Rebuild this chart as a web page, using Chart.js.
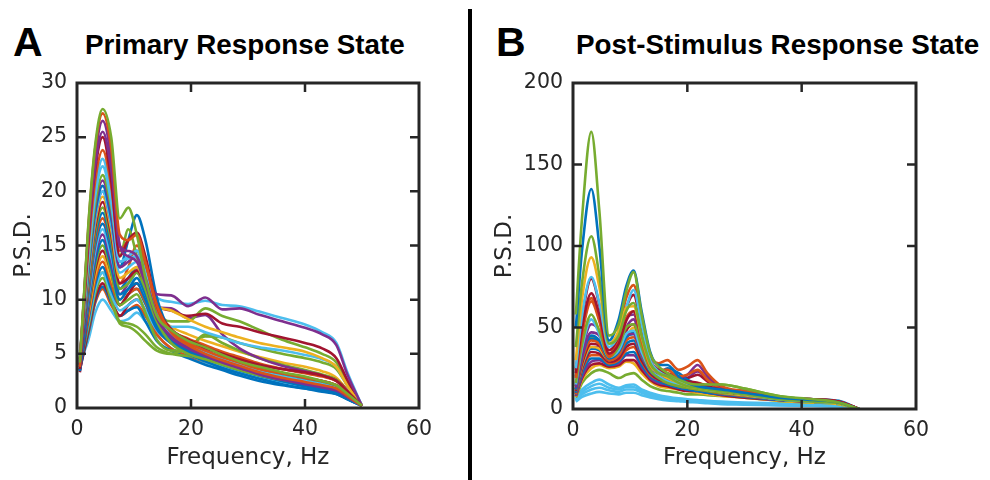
<!DOCTYPE html>
<html>
<head>
<meta charset="utf-8">
<script src="https://cdn.jsdelivr.net/npm/chart.js@4/dist/chart.umd.min.js"></script>
<style>
  html, body { margin: 0; padding: 0; background: #fff; }
  #wrap { position: relative; width: 990px; height: 480px; overflow: hidden; background: #fff; }
  .panel-letter { position: absolute; font-family: 'Liberation Sans', Arial, sans-serif; font-weight: bold;
                  font-size: 41px; line-height: 41px; color: #000; }
  .panel-title { position: absolute; font-family: 'Liberation Sans', Arial, sans-serif; font-weight: bold;
                 font-size: 27.8px; line-height: 27.8px; color: #000; white-space: nowrap; }
  #divider { position: absolute; left: 468px; top: 9px; width: 4px; height: 471px; background: #000; }
  canvas { position: absolute; top: 0; }
</style>
</head>
<body>
<div id="wrap">
  <div class="panel-letter" style="left:13px;top:22px">A</div>
  <div class="panel-title" style="left:85px;top:30.5px">Primary Response State</div>
  <div class="panel-letter" style="left:496px;top:22px">B</div>
  <div class="panel-title" style="left:576px;top:30.5px">Post-Stimulus Response State</div>
  <div id="divider"></div>
  <canvas id="chartA" width="470" height="480" style="left:0;width:470px;height:480px"></canvas>
  <canvas id="chartB" width="520" height="480" style="left:470px;width:520px;height:480px"></canvas>
</div>
<script>
// ---- axis ticks ----
const xTicks = [0, 20, 40, 60];
const yTicksA = [0, 5, 10, 15, 20, 25, 30];
const yTicksB = [0, 50, 100, 150, 200];

// ---- line colours (default colour order) ----
const palette = {
  blue: '#0072BD', orange: '#D95319', yellow: '#EDB120', purple: '#7E2F8E',
  green: '#77AC30', cyan: '#4DBEEE', red: '#A2142F'
};

// ---- Panel A: primary response state, PSD per recording ----
const freqA = [0.5, 2, 3.2, 4.5, 6, 7.5, 9, 10.5, 12, 14, 16.5, 19.5, 22.5, 25.5, 28.5, 32, 36, 40, 43, 45.5, 47.5, 50];
const colorsA = ['green','orange','purple','purple','red','orange','cyan','cyan','green','purple','blue','cyan',
                 'purple','yellow','red','green','blue','orange','blue','cyan','purple','blue','green','red',
                 'yellow','orange','blue','cyan','green','green','red','blue','orange','cyan'];
const psdA = [
  [4.2, 17.0, 24.3, 27.6, 25.0, 17.5, 18.5, 16.0, 12.0, 8.5, 7.2, 6.2, 5.6, 4.9, 4.3, 3.8, 3.3, 2.9, 2.5, 2.1, 1.3, 0.2],
  [3.8, 16.8, 24.0, 27.2, 24.0, 16.0, 15.5, 16.0, 13.5, 9.5, 7.0, 5.8, 5.0, 4.4, 3.9, 3.3, 2.8, 2.4, 2.1, 1.8, 1.1, 0.2],
  [4.0, 16.4, 23.3, 26.5, 23.0, 15.0, 14.5, 14.0, 12.0, 8.5, 6.5, 5.5, 4.8, 4.2, 3.7, 3.1, 2.6, 2.2, 1.9, 1.6, 1.0, 0.2],
  [4.3, 15.8, 22.4, 25.5, 22.0, 15.0, 14.0, 13.5, 11.5, 8.3, 6.6, 5.6, 4.9, 4.3, 3.7, 3.2, 2.7, 2.3, 2.0, 1.7, 1.0, 0.2],
  [3.6, 15.5, 22.0, 25.0, 21.0, 14.0, 15.5, 16.2, 14.0, 9.5, 7.3, 6.3, 5.6, 5.0, 4.5, 4.0, 3.6, 3.3, 3.0, 2.5, 1.5, 0.2],
  [4.5, 14.8, 21.0, 23.8, 20.5, 14.5, 15.5, 16.0, 13.5, 9.2, 7.0, 6.0, 5.3, 4.7, 4.2, 3.6, 3.2, 2.8, 2.5, 2.1, 1.3, 0.2],
  [4.8, 14.3, 20.2, 23.0, 19.5, 13.5, 14.0, 14.5, 12.5, 8.8, 6.8, 5.7, 5.0, 4.4, 3.9, 3.3, 2.8, 2.4, 2.1, 1.8, 1.1, 0.2],
  [4.4, 13.8, 19.6, 22.3, 19.0, 13.5, 13.8, 14.0, 12.0, 8.6, 6.8, 5.8, 5.1, 4.5, 4.0, 3.4, 2.9, 2.5, 2.2, 1.8, 1.1, 0.2],
  [4.5, 13.3, 18.9, 21.5, 18.5, 14.0, 16.5, 14.0, 11.0, 8.0, 6.0, 5.0, 4.5, 4.0, 3.5, 3.0, 2.6, 2.3, 2.0, 1.7, 1.0, 0.2],
  [4.3, 13.0, 18.5, 21.0, 18.0, 13.0, 13.5, 14.0, 12.5, 10.5, 10.4, 9.4, 10.2, 9.1, 9.2, 8.6, 8.0, 7.4, 6.8, 5.8, 3.0, 0.2],
  [4.0, 12.7, 18.0, 20.5, 17.5, 13.0, 15.5, 17.8, 15.5, 10.2, 7.0, 5.8, 5.0, 4.3, 3.7, 3.1, 2.6, 2.2, 1.9, 1.6, 1.0, 0.2],
  [4.6, 12.4, 17.6, 20.0, 17.0, 12.5, 13.0, 13.5, 12.0, 10.2, 9.8, 9.6, 9.9, 9.5, 9.4, 8.9, 8.3, 7.7, 7.0, 6.0, 3.2, 0.2],
  [4.1, 12.4, 17.6, 20.0, 17.0, 13.0, 14.0, 14.5, 12.5, 8.8, 7.0, 6.0, 5.3, 4.7, 4.2, 3.7, 3.2, 2.8, 2.5, 2.1, 1.3, 0.2],
  [5.0, 12.1, 17.2, 19.5, 16.5, 12.0, 12.5, 13.0, 11.5, 9.5, 9.0, 8.2, 7.5, 7.0, 6.5, 6.0, 5.6, 5.2, 4.6, 3.8, 2.0, 0.2],
  [3.8, 11.8, 16.7, 19.0, 16.0, 11.5, 12.0, 12.7, 11.5, 9.5, 9.0, 8.5, 8.7, 7.8, 7.5, 7.0, 6.5, 6.0, 5.5, 4.6, 2.5, 0.2],
  [4.2, 11.5, 16.3, 18.5, 15.5, 11.0, 11.5, 12.5, 11.0, 8.8, 8.0, 8.0, 9.2, 8.5, 8.0, 7.2, 6.3, 5.6, 5.0, 4.2, 2.2, 0.2],
  [3.5, 11.2, 15.8, 18.0, 15.0, 11.0, 12.0, 13.0, 11.0, 8.2, 6.2, 5.2, 4.6, 4.0, 3.5, 3.0, 2.5, 2.1, 1.8, 1.5, 0.9, 0.2],
  [4.5, 10.9, 15.4, 17.5, 15.0, 11.5, 13.0, 15.0, 13.0, 9.2, 7.2, 6.4, 5.8, 5.2, 4.7, 4.1, 3.6, 3.2, 2.9, 2.5, 1.5, 0.2],
  [4.0, 10.5, 15.0, 17.0, 14.5, 10.5, 11.0, 12.0, 10.5, 8.0, 6.5, 5.6, 5.0, 4.4, 3.9, 3.4, 2.9, 2.5, 2.2, 1.8, 1.1, 0.2],
  [5.2, 10.2, 14.5, 16.5, 14.0, 11.0, 11.5, 12.0, 10.5, 8.5, 7.5, 7.5, 7.0, 6.5, 6.0, 5.6, 5.3, 4.9, 4.5, 3.8, 2.0, 0.2],
  [4.0, 9.9, 14.1, 16.0, 13.5, 10.5, 11.5, 12.5, 11.0, 9.3, 9.2, 8.3, 8.6, 6.8, 5.5, 4.6, 3.9, 3.4, 3.0, 2.5, 1.5, 0.2],
  [3.4, 9.6, 13.6, 15.5, 13.0, 10.0, 11.0, 11.5, 10.0, 7.6, 6.3, 5.3, 4.7, 4.1, 3.5, 3.0, 2.5, 2.0, 1.7, 1.4, 0.8, 0.2],
  [4.0, 9.3, 13.2, 15.0, 12.5, 9.5, 10.0, 10.5, 8.8, 6.3, 5.3, 5.5, 6.8, 6.0, 5.3, 4.6, 4.0, 3.5, 3.1, 2.6, 1.5, 0.2],
  [3.3, 9.0, 12.8, 14.5, 12.5, 9.5, 10.5, 11.5, 10.2, 8.2, 6.8, 6.0, 5.5, 5.0, 4.5, 4.0, 3.6, 3.3, 3.0, 2.6, 1.6, 0.2],
  [4.8, 8.7, 12.3, 14.0, 12.0, 10.0, 11.0, 11.5, 10.2, 8.6, 7.5, 6.8, 6.2, 5.7, 5.2, 4.7, 4.2, 3.8, 3.4, 2.8, 1.6, 0.2],
  [4.2, 8.4, 11.9, 13.5, 11.5, 9.5, 10.5, 11.0, 9.8, 7.8, 6.5, 5.7, 5.1, 4.6, 4.1, 3.6, 3.2, 2.8, 2.5, 2.1, 1.3, 0.2],
  [3.6, 8.1, 11.4, 13.0, 11.0, 9.5, 10.5, 11.0, 9.6, 7.3, 6.0, 5.0, 4.3, 3.7, 3.2, 2.7, 2.2, 1.8, 1.6, 1.3, 0.8, 0.2],
  [4.5, 7.8, 11.0, 12.5, 10.5, 9.0, 9.5, 10.0, 9.0, 7.2, 6.0, 5.0, 4.3, 3.8, 3.3, 2.8, 2.4, 2.0, 1.7, 1.4, 0.9, 0.2],
  [4.0, 7.8, 11.0, 12.5, 10.0, 7.8, 7.5, 7.0, 6.2, 5.3, 5.0, 5.6, 6.6, 6.5, 6.0, 5.5, 5.0, 4.6, 4.2, 3.6, 2.0, 0.2],
  [4.0, 7.5, 10.6, 12.0, 10.0, 8.0, 7.8, 7.5, 6.8, 5.6, 5.0, 4.8, 4.6, 4.2, 3.8, 3.4, 3.0, 2.6, 2.3, 1.9, 1.1, 0.2],
  [3.5, 7.2, 10.1, 11.5, 10.0, 8.5, 9.5, 10.0, 9.0, 7.2, 6.0, 5.2, 4.6, 4.1, 3.6, 3.2, 2.9, 2.6, 2.3, 1.9, 1.2, 0.2],
  [3.5, 7.0, 9.9, 11.2, 9.8, 8.5, 9.0, 9.3, 8.0, 6.2, 5.3, 4.6, 4.0, 3.5, 3.0, 2.5, 2.1, 1.8, 1.5, 1.3, 0.8, 0.2],
  [3.8, 6.9, 9.7, 11.0, 9.5, 8.5, 9.0, 9.5, 8.5, 6.8, 5.5, 4.8, 4.3, 3.8, 3.4, 2.9, 2.5, 2.2, 1.9, 1.6, 1.0, 0.2],
  [4.2, 6.3, 8.8, 10.0, 9.0, 8.0, 8.2, 8.8, 8.0, 6.7, 5.5, 4.8, 4.2, 3.7, 3.3, 2.9, 2.5, 2.2, 1.9, 1.6, 1.0, 0.2]
];

// ---- Panel B: post-stimulus response state, PSD per recording ----
const freqB = [0.5, 1.6, 3.2, 4.6, 6.3, 8, 9.3, 10.6, 12, 13.5, 15, 16.5, 18.5, 20, 21.8, 23.5, 26, 30, 36, 42, 46.5, 50];
const colorsB = ['green','blue','green','yellow','cyan','red','red','orange','orange','green','cyan','purple',
                 'purple','blue','orange','red','yellow','blue','red','orange','blue','purple','red','yellow',
                 'green','cyan','cyan','cyan','cyan','blue','green','purple'];
const psdB = [
  [58, 118, 170, 122, 45, 52, 72, 84, 58, 34, 26, 22, 18, 16, 15, 15, 15, 12.5, 8, 6, 4, 0],
  [50, 98, 135, 100, 42, 55, 75, 85, 60, 35, 27, 27, 20, 16, 14, 13, 12, 10, 7, 5.5, 4, 0],
  [38, 78, 106, 82, 40, 45, 60, 65, 45, 28, 22, 20, 16, 14, 13, 12, 11, 9, 6, 4.5, 3.5, 0],
  [30, 68, 93, 75, 40, 48, 62, 63, 44, 27, 22, 19, 16, 14, 13, 12, 11, 9, 6.5, 5, 3.5, 0],
  [25, 58, 81, 65, 38, 46, 62, 73, 52, 30, 23, 20, 17, 15, 14, 12, 11, 9, 6, 4.5, 3.5, 0],
  [24, 56, 80, 64, 36, 45, 62, 70, 50, 30, 24, 21, 18, 16, 15, 13, 11, 9, 6.5, 5.5, 4.5, 0],
  [22, 50, 71, 58, 34, 40, 54, 60, 44, 28, 23, 21, 18, 17, 16, 14, 12, 9.5, 7, 6, 4.5, 0],
  [20, 48, 68, 55, 33, 48, 68, 76, 55, 33, 28, 30, 24, 26, 30, 22, 14, 11, 7, 5.5, 4.5, 0],
  [19, 46, 66, 54, 32, 42, 56, 60, 42, 26, 24, 24, 20, 21, 24, 18, 12, 9.5, 6.5, 5, 4, 0],
  [16, 40, 58, 48, 32, 38, 50, 52, 38, 24, 19, 16, 14, 13, 12, 11, 10, 9, 6, 4.5, 3.5, 0],
  [15, 38, 55, 46, 32, 36, 46, 48, 35, 24, 20, 17, 15, 14, 13, 12, 11, 9, 6, 4.5, 3.5, 0],
  [14, 36, 52, 48, 33, 40, 55, 58, 40, 26, 22, 20, 19, 21, 27, 20, 13, 10, 7, 5.5, 4.5, 0],
  [13, 33, 47, 45, 32, 36, 46, 46, 34, 24, 20, 18, 16, 15, 15, 13, 11, 9, 6.5, 5, 4, 0],
  [12, 32, 45, 42, 31, 35, 44, 46, 34, 26, 22, 25, 22, 18, 15, 13, 11, 9, 6.5, 5, 4, 0],
  [12, 30, 42, 40, 30, 33, 42, 44, 33, 24, 20, 19, 17, 16, 16, 14, 12, 9.5, 7, 5.5, 4.5, 0],
  [11, 28, 40, 39, 30, 36, 48, 52, 38, 27, 23, 22, 20, 19, 21, 17, 12, 9.5, 7, 6, 4.5, 0],
  [11, 27, 38, 37, 30, 34, 44, 50, 36, 25, 20, 17, 15, 14, 13, 12, 10, 8.5, 6, 4.5, 3.5, 0],
  [10, 26, 37, 36, 30, 33, 40, 42, 32, 23, 19, 17, 15, 14, 13, 12, 10, 8.5, 6, 4.5, 3.5, 0],
  [10, 25, 35, 34, 29, 31, 38, 40, 30, 22, 18, 17, 15, 14, 14, 12, 10, 8.5, 6.5, 5.5, 4.5, 0],
  [9, 24, 33, 33, 28, 30, 36, 38, 29, 21, 18, 16, 14, 13, 12, 11, 9.5, 8, 6, 4.5, 3.5, 0],
  [9, 22, 31, 31, 27, 29, 34, 35, 27, 20, 17, 15, 13, 12, 11, 10, 9, 7.5, 5.5, 4.5, 3.5, 0],
  [8, 20, 29, 30, 27, 28, 33, 33, 26, 19, 16, 15, 13, 12, 11, 10, 9, 7.5, 5.5, 4.5, 3.5, 0],
  [8, 19, 27, 28, 26, 27, 30, 30, 24, 18, 15, 14, 12, 11, 11, 10, 8.5, 7, 5.5, 4.5, 3.5, 0],
  [7.5, 18, 25, 27, 25, 26, 29, 28, 22, 17, 14, 13, 12, 11, 10, 9, 8, 7, 5, 4, 3, 0],
  [7, 16, 22, 24, 22, 19, 21, 22, 18, 14, 12, 11, 10, 9, 9, 8.5, 8, 7, 5, 4, 3, 0],
  [6, 12, 16, 18, 15, 13, 14.5, 15, 12, 10, 8.5, 7.5, 6.5, 6, 5.5, 5, 4.5, 4, 3.5, 3, 2.5, 0],
  [5.5, 10.5, 14, 15.5, 13, 12, 13.5, 13.5, 11, 9, 8, 7, 6, 5.5, 5, 4.5, 4, 3.5, 3, 2.5, 2, 0],
  [5, 9, 12, 13, 11.5, 10.5, 12, 12, 10, 8, 7, 6.2, 5.5, 5, 4.5, 4, 3.5, 3, 2.5, 2, 1.8, 0],
  [4.5, 7.5, 9.5, 10.5, 9.5, 9, 10, 10, 8.5, 7, 6, 5.3, 4.8, 4.3, 4, 3.5, 3, 2.7, 2.2, 1.8, 1.5, 0],
  [12, 30, 43, 41, 30, 34, 44, 47, 35, 24, 21, 20, 18, 16, 14, 13, 12, 11, 7.5, 6, 5, 0],
  [14, 32, 44, 40, 30, 35, 45, 48, 36, 25, 21, 19, 17, 16, 15, 15, 15, 12.5, 8, 5.5, 4, 0],
  [10, 26, 38, 38, 30, 38, 50, 55, 39, 26, 21, 19, 18, 19, 23, 18, 12, 9.5, 7, 5.5, 4.5, 0]
];

// ---- helpers ----
const AXIS_COLOR = '#262626';
const TICK_FONT = { family: 'DejaVu Sans', size: 20.5 };
const TITLE_FONT = { family: 'DejaVu Sans', size: 23, lineHeight: 1 };

function buildDatasets(freqs, rows, colorKeys) {
  return rows.map((vals, i) => ({
    data: vals.map((v, j) => ({ x: freqs[j], y: v })),
    borderColor: palette[colorKeys[i % colorKeys.length]],
    borderWidth: 2.6,
    pointRadius: 0,
    fill: false,
    cubicInterpolationMode: 'monotone'
  }));
}

// Boxed axes with inward tick marks on all four sides
const boxFrame = {
  id: 'boxFrame',
  afterDatasetsDraw(chart) {
    const { ctx, chartArea: a, scales: { x, y } } = chart;
    const len = 9;
    ctx.save();
    ctx.strokeStyle = AXIS_COLOR;
    ctx.lineWidth = 2.5;
    ctx.lineCap = 'butt';
    ctx.beginPath();
    x.ticks.forEach(t => {
      const px = x.getPixelForValue(t.value);
      if (px <= a.left + 1 || px >= a.right - 1) return;
      ctx.moveTo(px, a.bottom); ctx.lineTo(px, a.bottom - len);
      ctx.moveTo(px, a.top); ctx.lineTo(px, a.top + len);
    });
    y.ticks.forEach(t => {
      const py = y.getPixelForValue(t.value);
      if (py <= a.top + 1 || py >= a.bottom - 1) return;
      ctx.moveTo(a.left, py); ctx.lineTo(a.left + len, py);
      ctx.moveTo(a.right, py); ctx.lineTo(a.right - len, py);
    });
    ctx.stroke();
    ctx.lineWidth = 3;
    ctx.strokeRect(a.left, a.top, a.right - a.left, a.bottom - a.top);
    ctx.restore();
  }
};

function makeChart(canvasId, freqs, rows, colorKeys, yTicks, yMax, geo) {
  return new Chart(document.getElementById(canvasId), {
    type: 'line',
    data: { datasets: buildDatasets(freqs, rows, colorKeys) },
    plugins: [boxFrame],
    options: {
      responsive: false,
      animation: false,
      devicePixelRatio: 1,
      layout: { padding: { top: geo.top, right: geo.right, left: 0, bottom: 0 } },
      plugins: { legend: { display: false }, tooltip: { enabled: false } },
      scales: {
        x: {
          type: 'linear', min: 0, max: 60,
          afterBuildTicks: s => { s.ticks = xTicks.map(v => ({ value: v })); },
          afterFit: s => { s.height = geo.xHeight; },
          grid: { display: false, drawTicks: false },
          border: { display: false },
          ticks: { padding: 9, color: AXIS_COLOR, font: TICK_FONT, maxRotation: 0, autoSkip: false },
          title: { display: true, text: 'Frequency, Hz', color: AXIS_COLOR, font: TITLE_FONT,
                   padding: { top: 0, bottom: 10.5 } }
        },
        y: {
          type: 'linear', min: 0, max: yMax,
          afterBuildTicks: s => { s.ticks = yTicks.map(v => ({ value: v })); },
          afterFit: s => { s.width = geo.yWidth; },
          grid: { display: false, drawTicks: false },
          border: { display: false },
          ticks: { padding: 10, color: AXIS_COLOR, font: TICK_FONT, autoSkip: false },
          title: { display: true, text: 'P.S.D.', color: AXIS_COLOR, font: TITLE_FONT,
                   padding: { top: geo.yTitlePad, bottom: 0 } }
        }
      }
    }
  });
}

makeChart('chartA', freqA, psdA, colorsA, yTicksA, 30,
          { top: 83, right: 51, xHeight: 72, yWidth: 77, yTitlePad: 12.5 });
makeChart('chartB', freqB, psdB, colorsB, yTicksB, 200,
          { top: 83, right: 74, xHeight: 71, yWidth: 103, yTitlePad: 23.5 });
</script>
</body>
</html>
